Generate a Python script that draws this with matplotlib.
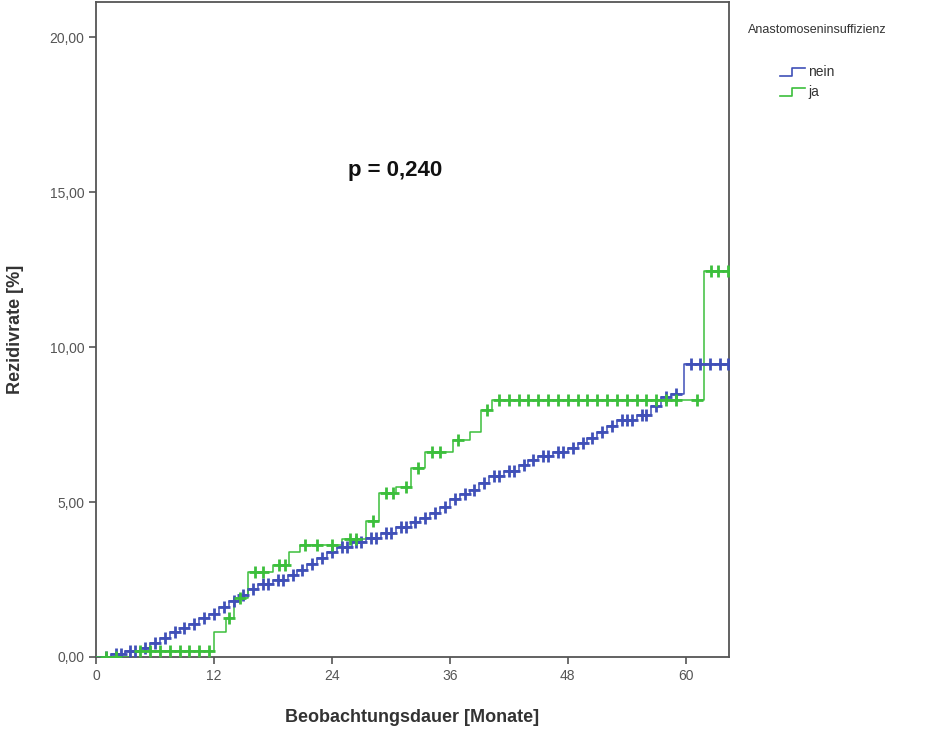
import numpy as np
import matplotlib.pyplot as plt
from matplotlib.lines import Line2D

plt.rcParams['font.family'] = ['Liberation Sans', 'DejaVu Sans']

# Kaplan-Meier steps (months, %)
nein_t = [0, 1.5, 3, 4.5, 5.5, 6.5, 7.5, 8.5, 9.5, 10.5, 11.5, 12.5, 13.5, 14.5,
          15.5, 16.5, 18, 19.5, 20.5, 21.5, 22.5, 23.5, 24.5, 26, 27.5, 29, 30.5,
          32, 33, 34, 35, 36, 37, 38, 39, 40, 41.5, 43, 44, 45, 46.5, 48, 49, 50,
          51, 52, 53, 55, 56.5, 57.5, 58.5, 59.8]
nein_v = [0, 0.1, 0.2, 0.3, 0.45, 0.6, 0.8, 0.95, 1.05, 1.25, 1.4, 1.6, 1.8, 2.0,
          2.2, 2.35, 2.5, 2.65, 2.8, 3.0, 3.2, 3.4, 3.55, 3.7, 3.85, 4.0, 4.2,
          4.35, 4.5, 4.65, 4.85, 5.1, 5.25, 5.4, 5.6, 5.85, 6.0, 6.2, 6.35, 6.5,
          6.6, 6.75, 6.9, 7.05, 7.25, 7.45, 7.65, 7.8, 8.1, 8.4, 8.5, 9.45]
nein_cens = [1, 2, 2.5, 3.5, 4, 5, 6, 7, 8, 9, 10, 11, 12, 13, 14, 15, 16, 17,
             17.5, 18.5, 19, 20, 21, 22, 23, 24, 25, 25.5, 26.5, 27, 28, 28.5,
             29.5, 30, 31, 31.5, 32.5, 33.5, 34.5, 35.5, 36.5, 37.5, 38.5, 39.5,
             40.5, 41, 42, 42.5, 43.5, 44.5, 45.5, 46, 47, 47.5, 48.5, 49.5, 50.5,
             51.5, 52.5, 53.5, 54, 54.5, 55.5, 56, 57, 58, 59, 60.5, 61.5, 62.5,
             63.5, 64.3]

ja_t = [0, 3.5, 12, 13.2, 14, 15.5, 18, 19.6, 20.8, 25, 27.5, 28.8, 30.5, 32,
        33.5, 36.3, 38, 39.2, 40.3, 61.9]
ja_v = [0, 0.2, 0.8, 1.25, 1.9, 2.75, 2.97, 3.4, 3.6, 3.8, 4.4, 5.3, 5.5, 6.1,
        6.6, 7.0, 7.26, 7.97, 8.29, 12.45]
ja_cens = [1, 2, 4.5, 5.5, 6.5, 7.5, 8.5, 9.5, 10.5, 11.5, 13.5, 14.7, 16.2, 17,
           18.6, 19.2, 21.3, 22.5, 24, 25.8, 26.5, 28.2, 29.5, 30.2, 31.5, 32.8,
           34.2, 35, 36.8, 39.8, 41, 42, 43, 44, 45, 46, 47, 48, 49, 50, 51, 52,
           53, 54, 55, 56, 57, 58, 59, 61.1, 62.6, 63.3, 64.3]

x_end = 64.4
groups = [("nein", nein_t, nein_v, nein_cens, "#4050b8"),
          ("ja", ja_t, ja_v, ja_cens, "#3cbf3c")]

fig = plt.figure(figsize=(9.44, 7.31), dpi=100)
ax = fig.add_axes([96 / 944, 74 / 731, 633 / 944, 655 / 731])

for name, t, v, cens, col in groups:
    tt = np.append(t, x_end)
    vv = np.append(v, v[-1])
    ax.step(tt, vv, where='post', color=col, lw=1.1, zorder=3)
    idx = np.searchsorted(t, cens, side='right') - 1
    ax.plot(cens, np.array(v)[idx], linestyle='none', marker='+', ms=9,
            mew=2.0, color=col, zorder=4)

ax.set_xlim(0, x_end)
ax.set_ylim(0, 21.13)
ax.set_xticks([0, 12, 24, 36, 48, 60])
ax.set_yticks([0, 5, 10, 15, 20])
ax.set_yticklabels(['0,00', '5,00', '10,00', '15,00', '20,00'])
ax.tick_params(direction='out', length=5, width=1.2, colors='#555555',
               labelsize=10, labelcolor='#555555')
for s in ax.spines.values():
    s.set_color('#555555')
    s.set_linewidth(1.3)

ax.set_xlabel('Beobachtungsdauer [Monate]', fontsize=13, fontweight='bold',
              color='#333333', labelpad=19)
ax.set_ylabel('Rezidivrate [%]', fontsize=13, fontweight='bold',
              color='#333333', labelpad=18)
ax.text(30.4, 15.7, 'p = 0,240', fontsize=16, fontweight='bold',
        ha='center', va='center', color='#111111')

# legend outside the plot, step-shaped keys
fig.text(748 / 944, 1 - 30 / 731, 'Anastomoseninsuffizienz', fontsize=9,
         color='#333333', va='center')
for i, (name, t, v, cens, col) in enumerate(groups):
    y0 = 1 - (76 + i * 20) / 731
    y1 = 1 - (68 + i * 20) / 731
    xs = np.array([780, 792, 792, 805]) / 944
    fig.add_artist(Line2D(xs, [y0, y0, y1, y1], color=col, lw=1.2))
    fig.text(808 / 944, (y0 + y1) / 2, name, fontsize=10, color='#333333',
             va='center')

fig.savefig('out.png', dpi=100)
